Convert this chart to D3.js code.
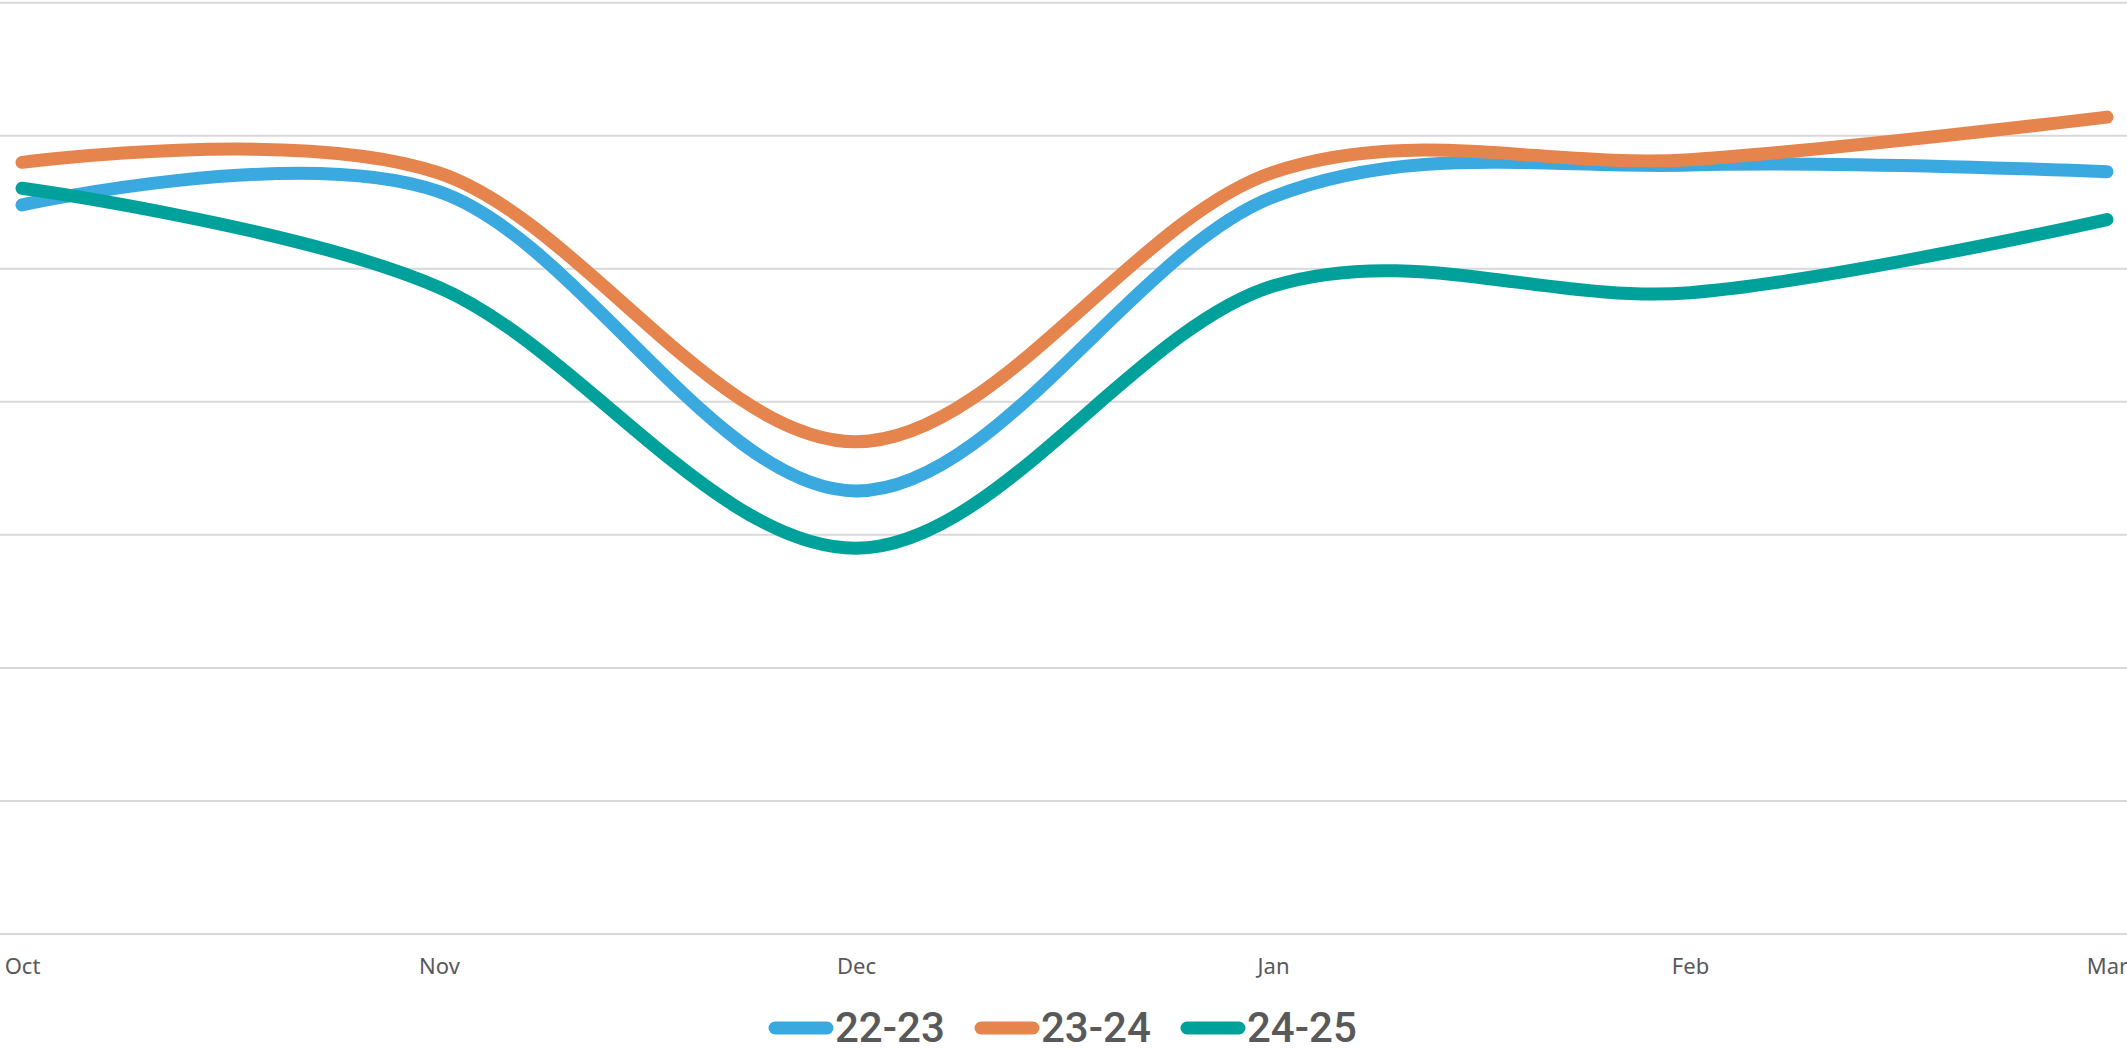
<!DOCTYPE html>
<html>
<head>
<meta charset="utf-8">
<script src="https://cdn.jsdelivr.net/npm/d3@7"></script>
<style>
  html, body { margin: 0; padding: 0; background: #fff; }
  svg { display: block; }
</style>
</head>
<body>
<svg id="chart" width="2127" height="1052"></svg>
<script>
// Months along the season
const months = ["Oct", "Nov", "Dec", "Jan", "Feb", "Mar"];

// One series per season
const season2223 = [54.8, 55.8, 33.3, 55.4, 57.8, 57.3];
const season2324 = [58.0, 57.2, 37.0, 57.25, 58.2, 61.4];
const season2425 = [56.05, 48.6, 29.0, 48.7, 48.2, 53.7];

const seriesNames = ["22-23", "23-24", "24-25"];
const seriesColors = ["#3AA9E0", "#E6844E", "#00A19B"];

// Gridline values
const gridTicks = [0, 10, 20, 30, 40, 50, 60, 70];

const series = [season2223, season2324, season2425].map((values, i) => ({
  name: seriesNames[i],
  color: seriesColors[i],
  values
}));

const svg = d3.select("#chart");

const x = d3.scalePoint().domain(months).range([22, 2107]);
const y = d3.scaleLinear().domain([0, 70]).range([934, 2.7]);

// Horizontal gridlines
svg.append("g")
  .selectAll("line")
  .data(gridTicks)
  .join("line")
  .attr("x1", 0)
  .attr("x2", 2127)
  .attr("y1", d => y(d))
  .attr("y2", d => y(d))
  .attr("stroke", "#d9d9d9")
  .attr("stroke-width", 2);

// Month labels under the plot
const xAxis = d3.axisBottom(x).tickSize(0).tickPadding(0);
const gx = svg.append("g")
  .attr("transform", `translate(0,${y(0)})`)
  .call(xAxis);
gx.select(".domain").remove();
gx.selectAll("text")
  .attr("dy", null)
  .attr("y", 40)
  .attr("fill", "#595959")
  .style("font-family", "'Noto Sans', 'Open Sans', sans-serif")
  .style("font-size", "22px");

// Smoothed season lines
const line = d3.line()
  .x((d, i) => x(months[i]))
  .y(d => y(d))
  .curve(d3.curveCardinal.tension(0));

svg.append("g")
  .selectAll("path")
  .data(series)
  .join("path")
  .attr("d", d => line(d.values))
  .attr("fill", "none")
  .attr("stroke", d => d.color)
  .attr("stroke-width", 13)
  .attr("stroke-linecap", "round")
  .attr("stroke-linejoin", "round");

// Legend centred under the chart
const itemWidth = 206;
const legendX = 2127 / 2 - (itemWidth * series.length - 29) / 2;
const legend = svg.append("g")
  .attr("transform", `translate(${legendX},1028)`);

const items = legend.selectAll("g")
  .data(series)
  .join("g")
  .attr("transform", (d, i) => `translate(${i * itemWidth},0)`);

items.append("line")
  .attr("x1", 6)
  .attr("x2", 58)
  .attr("y1", 0)
  .attr("y2", 0)
  .attr("stroke", d => d.color)
  .attr("stroke-width", 13)
  .attr("stroke-linecap", "round");

items.append("text")
  .attr("x", 66)
  .attr("y", 14)
  .attr("fill", "#595959")
  .style("font-family", "Roboto, 'Liberation Sans', sans-serif")
  .style("font-weight", 500)
  .style("font-size", "42px")
  .text(d => d.name);
</script>
</body>
</html>
